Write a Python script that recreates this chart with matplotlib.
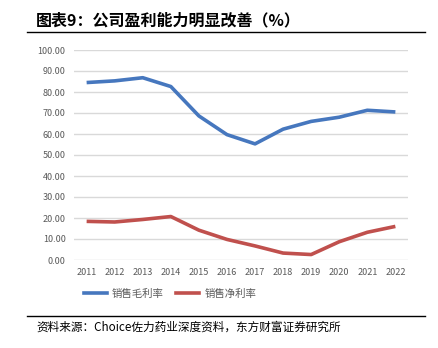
import matplotlib.pyplot as plt
from matplotlib.lines import Line2D

plt.rcParams['font.family'] = ['Noto Sans CJK SC', 'DejaVu Sans']

years = ['2011', '2012', '2013', '2014', '2015', '2016', '2017', '2018', '2019', '2020', '2021', '2022']
gross_margin = [84.5, 85.3, 86.8, 82.6, 68.6, 59.7, 55.3, 62.3, 66.0, 68.0, 71.3, 70.5]
net_margin = [18.4, 18.1, 19.3, 20.7, 14.2, 9.8, 6.7, 3.3, 2.6, 8.7, 13.2, 16.0]
yticks = [0, 10, 20, 30, 40, 50, 60, 70, 80, 90, 100]

fig = plt.figure(figsize=(4.38, 3.48), dpi=100)
ax = fig.add_axes([74 / 438, 1 - 260 / 348, (408 - 74) / 438, (260 - 50) / 348])

x = range(len(years))
ax.plot(x, gross_margin, color='#4677BE', lw=2.6, label='销售毛利率', solid_capstyle='butt')
ax.plot(x, net_margin, color='#C0504D', lw=2.6, label='销售净利率', solid_capstyle='butt')

ax.set_ylim(0, 100)
ax.set_xlim(-0.45, 11.45)
ax.set_yticks(yticks)
ax.set_yticklabels(['%.2f' % v for v in yticks])
ax.set_xticks(list(x))
ax.set_xticklabels(years)
ax.grid(axis='y', color='#D9D9D9', lw=1)
ax.set_axisbelow(True)
for s in ax.spines.values():
    s.set_visible(False)
ax.tick_params(length=0, labelsize=6.5, labelcolor='#595959', pad=6)

handles = [Line2D([], [], color='#4677BE', lw=2.6), Line2D([], [], color='#C0504D', lw=2.6)]
fig.legend(handles, ['销售毛利率', '销售净利率'], loc='center', bbox_to_anchor=(170 / 438, 1 - 294 / 348),
           ncol=2, frameon=False, fontsize=7.5, handlelength=2.2, handletextpad=0.5, columnspacing=1.2,
           labelcolor='#595959')

# 标题和上下分隔线
fig.text(36 / 438, 1 - 20 / 348, '图表9：公司盈利能力明显改善（%）', fontsize=11.5, fontweight='bold',
         va='center', ha='left')
fig.add_artist(Line2D([27 / 438, 425 / 438], [1 - 32 / 348, 1 - 32 / 348], color='black', lw=1))
fig.add_artist(Line2D([27 / 438, 425 / 438], [1 - 316 / 348, 1 - 316 / 348], color='black', lw=1))
fig.text(36 / 438, 1 - 327 / 348, '资料来源：Choice佐力药业深度资料，东方财富证券研究所', fontsize=8.4,
         va='center', ha='left')

fig.savefig('out.png', dpi=100)
